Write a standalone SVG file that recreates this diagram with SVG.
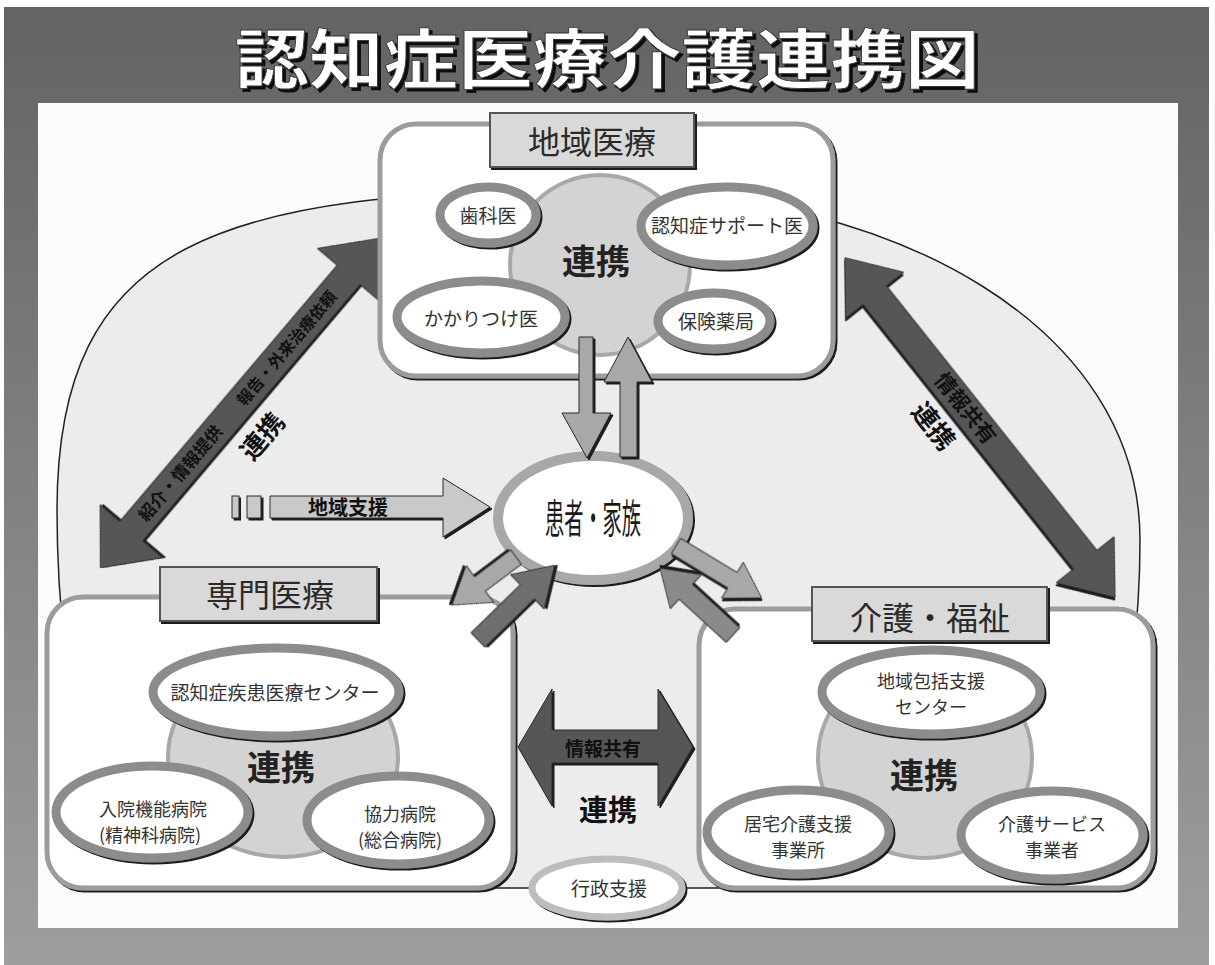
<svg xmlns="http://www.w3.org/2000/svg" width="1215" height="965" viewBox="0 0 1215 965">
<defs>
<linearGradient id="bg" x1="0" y1="0" x2="0" y2="1"><stop offset="0" stop-color="#636363"/><stop offset="1" stop-color="#9e9e9e"/></linearGradient>
<filter id="sh" x="-10%" y="-10%" width="130%" height="130%"><feDropShadow dx="2" dy="2" stdDeviation="0.4" flood-color="#1a1a1a" flood-opacity="1"/></filter>
<filter id="tsh" x="-5%" y="-10%" width="110%" height="130%"><feDropShadow dx="3" dy="3" stdDeviation="0.6" flood-color="#111" flood-opacity="1"/></filter>
<style>
text{font-family:"Noto Sans CJK JP","Noto Sans CJK SC",sans-serif;text-anchor:middle;fill:#2a2a2a}
.box{fill:#fff;stroke:#9c9c9c;stroke-width:5}
.lab{fill:#d9d9d9;stroke:#555;stroke-width:2}
.hub{fill:#d3d3d3;stroke:#a8a8a8;stroke-width:4}
.ell{fill:#fff;stroke:#8c8c8c;stroke-width:9}
.lt{font-size:32px;fill:#2a2a2a}
.hubt{font-size:34px;font-weight:700;fill:#222}
.et{font-size:19px;fill:#333}
.e2{font-size:18px;fill:#333}
.big{fill:#575757;stroke:#2a2a2a;stroke-width:1}
.mid{fill:#a8a8a8;stroke:#2a2a2a;stroke-width:1}
.lite{fill:#c9c9c9;stroke:#2a2a2a;stroke-width:1}
.dk{fill:#6e6e6e;stroke:#2a2a2a;stroke-width:1}
.md{fill:#8a8a8a;stroke:#2a2a2a;stroke-width:1}
.at{font-weight:700;fill:#111}
</style>
</defs>
<rect x="0" y="0" width="1215" height="965" fill="#fff"/>
<rect x="4" y="7" width="1205" height="958" fill="url(#bg)"/>
<text x="607" y="83" font-size="65" font-weight="700" textLength="745" lengthAdjust="spacingAndGlyphs" style="fill:#fff;stroke:#333;stroke-width:0.8" filter="url(#tsh)">認知症医療介護連携図</text>
<rect x="38" y="103" width="1140" height="825" fill="#fbfbfb"/>
<path d="M57,510 C57,240 220,190 600,190 C900,190 1140,330 1140,540 C1140,700 1100,888 1000,888 L200,888 C100,888 57,700 57,510 Z" fill="#ececec" stroke="#222" stroke-width="1.5"/>

<g id="connectors-back">
<g transform="translate(240,403) rotate(-49.7)">
<polygon class="big" filter="url(#sh)" points="-216,0 -168,-41 -168,-15 168,-15 168,-41 216,0 168,41 168,15 -168,15 -168,41"/>
<text class="at" x="-92" y="6" font-size="17">紹介・情報提供</text>
<text class="at" x="72" y="6" font-size="16">報告・外来治療依頼</text>
<text class="at" x="-11" y="48" font-size="26">連携</text>
</g>
<g transform="translate(980,427.5) rotate(51.5)">
<polygon class="big" filter="url(#sh)" points="-217,0 -169,-37 -169,-15 169,-15 169,-37 217,0 169,37 169,15 -169,15 -169,37"/>
<text class="at" x="-24" y="7" font-size="21">情報共有</text>
<text class="at" x="-30" y="45" font-size="26">連携</text>
</g>
</g>

<g id="node-chiiki">
<rect class="box" x="380" y="124" width="453" height="252" rx="36" filter="url(#sh)"/>
<circle class="hub" cx="600" cy="265" r="90"/>
<text class="hubt" x="596" y="274">連携</text>
<ellipse class="ell" cx="488" cy="215" rx="48" ry="28" filter="url(#sh)"/>
<text class="et" x="488" y="223" font-size="22">歯科医</text>
<ellipse class="ell" cx="727" cy="226" rx="86" ry="39" filter="url(#sh)"/>
<text class="et" x="727" y="233">認知症サポート医</text>
<ellipse class="ell" cx="481" cy="317" rx="84" ry="36" filter="url(#sh)"/>
<text class="et" x="481" y="326" font-size="24">かかりつけ医</text>
<ellipse class="ell" cx="714" cy="321" rx="56" ry="28" filter="url(#sh)"/>
<text class="et" x="716" y="329" font-size="23">保険薬局</text>
<rect class="lab" x="490" y="113" width="204" height="54" filter="url(#sh)"/>
<text class="lt" x="592" y="154">地域医療</text>
</g>

<g id="node-senmon">
<rect class="box" x="47" y="597" width="466" height="291" rx="36" filter="url(#sh)"/>
<ellipse class="hub" cx="283" cy="757" rx="115" ry="100"/>
<text class="hubt" x="281" y="780">連携</text>
<ellipse class="ell" cx="276" cy="692" rx="123" ry="44" filter="url(#sh)"/>
<text class="et" x="275" y="700">認知症疾患医療センター</text>
<ellipse class="ell" cx="152" cy="812" rx="96" ry="46" filter="url(#sh)"/>
<text class="e2" x="153" y="816">入院機能病院</text>
<text class="e2" x="150" y="842">(精神科病院)</text>
<ellipse class="ell" cx="398" cy="820" rx="91" ry="44" filter="url(#sh)"/>
<text class="e2" x="400" y="821">協力病院</text>
<text class="e2" x="400" y="847">(総合病院)</text>
<rect class="lab" x="160" y="567" width="217" height="54" filter="url(#sh)"/>
<text class="lt" x="270" y="607">専門医療</text>
</g>

<g id="node-kaigo">
<rect class="box" x="699" y="609" width="454" height="279" rx="36" filter="url(#sh)"/>
<ellipse class="hub" cx="925" cy="758" rx="107" ry="100"/>
<text class="hubt" x="924" y="788">連携</text>
<ellipse class="ell" cx="931" cy="692" rx="109" ry="42" filter="url(#sh)"/>
<text class="e2" x="931" y="688">地域包括支援</text>
<text class="e2" x="931" y="714">センター</text>
<ellipse class="ell" cx="798" cy="832" rx="91" ry="42" filter="url(#sh)"/>
<text class="e2" x="798" y="831">居宅介護支援</text>
<text class="e2" x="798" y="857">事業所</text>
<ellipse class="ell" cx="1052" cy="835" rx="91" ry="44" filter="url(#sh)"/>
<text class="e2" x="1052" y="831">介護サービス</text>
<text class="e2" x="1052" y="857">事業者</text>
<rect class="lab" x="812" y="587" width="235" height="54" filter="url(#sh)"/>
<text class="lt" x="930" y="630">介護・福祉</text>
</g>

<g id="node-patient">
<ellipse cx="593" cy="518" rx="95" ry="62" fill="#fff" stroke="#a8a8a8" stroke-width="10" filter="url(#sh)"/>
<text x="593" y="533" font-size="40" textLength="96" lengthAdjust="spacingAndGlyphs" style="fill:#1a1a1a">患者・家族</text>
</g>

<g id="node-gyosei">
<ellipse cx="607" cy="888" rx="75" ry="29" fill="#fff" stroke="#bdbdbd" stroke-width="7" filter="url(#sh)"/>
<text class="et" x="609" y="896">行政支援</text>
</g>

<g id="connectors">
<polygon class="mid" filter="url(#sh)" points="579,337 593,337 593,413 611,413 587,458 562,413 579,413"/>
<polygon class="mid" filter="url(#sh)" points="620,457 620,382 604,382 628,337 652,382 637,382 637,457"/>
<rect class="lite" x="232" y="496" width="7" height="22" filter="url(#sh)"/>
<rect class="lite" x="247" y="496" width="14" height="22" filter="url(#sh)"/>
<polygon class="lite" filter="url(#sh)" points="270,496 443,496 443,478 490,507 443,537 443,518 270,518"/>
<text class="at" x="348" y="515" font-size="20">地域支援</text>
<g transform="translate(516,557) rotate(143.1)"><polygon class="mid" filter="url(#sh)" points="0,-9 45,-9 45,-23 80,0 45,23 45,9 0,9"/></g>
<g transform="translate(478,640) rotate(-44.3)"><polygon class="dk" filter="url(#sh)" points="0,-10 69,-10 69,-24 107,0 69,24 69,10 0,10"/></g>
<g transform="translate(733,635) rotate(-137.5)"><polygon class="md" filter="url(#sh)" points="0,-10 64,-10 64,-23 99,0 64,23 64,10 0,10"/></g>
<g transform="translate(676,546) rotate(31.2)"><polygon class="mid" filter="url(#sh)" points="0,-9 66,-9 66,-21 100,0 66,21 66,9 0,9"/></g>
<polygon class="big" filter="url(#sh)" points="518,747 552,689 552,730 658,730 658,689 693,747 658,806 658,763 552,763 552,806"/>
<text class="at" x="603" y="756" font-size="19">情報共有</text>
<text class="at" x="608" y="821" font-size="29">連携</text>
</g>
</svg>
